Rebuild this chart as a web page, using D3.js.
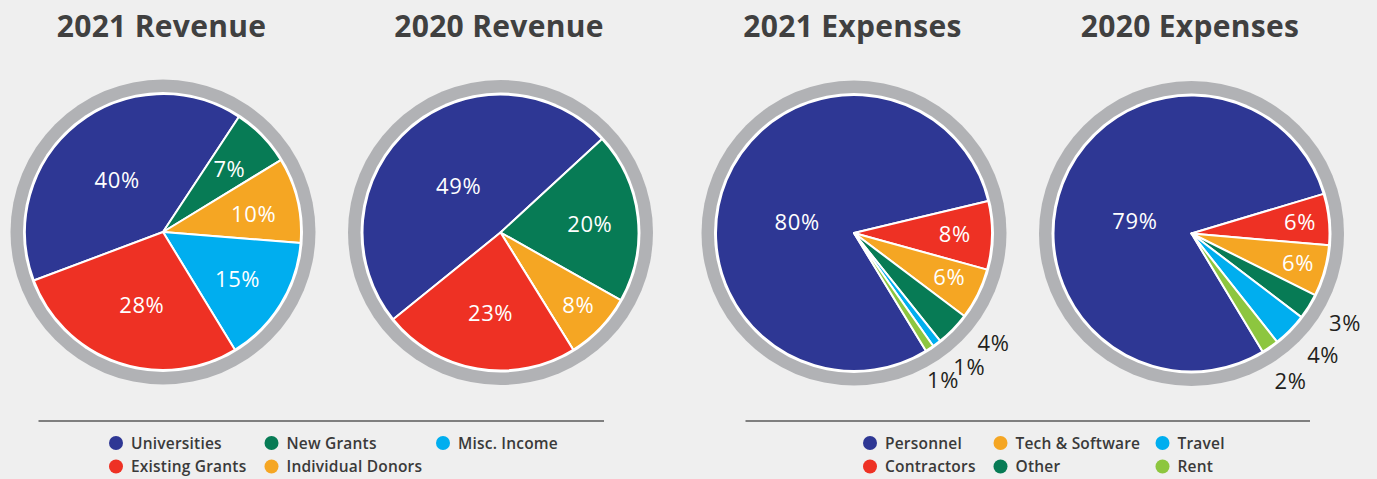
<!DOCTYPE html>
<html>
<head>
<meta charset="utf-8">
<script src="https://cdn.jsdelivr.net/npm/d3@7"></script>
<style>
  html, body { margin: 0; padding: 0; background: #efefef; }
  svg { display: block; font-family: "Open Sans", "DejaVu Sans", sans-serif; }
</style>
</head>
<body>
<div id="vis"></div>
<script>
// revenue: slice order goes clockwise from the start angle
var revenueSlices = ["Universities", "New Grants", "Individual Donors", "Misc. Income", "Existing Grants"];
var revenueColors = ["#2e3794", "#077b55", "#f5a623", "#00aeef", "#ee3124"];
var revenue2021 = [40, 7, 10, 15, 28];
var revenue2020 = [49, 20, 8, 0, 23];
var revenueLegend = ["Universities", "Existing Grants", "New Grants", "Individual Donors", "Misc. Income"];

var expenseSlices = ["Personnel", "Contractors", "Tech & Software", "Other", "Travel", "Rent"];
var expenseColors = ["#2e3794", "#ee3124", "#f5a623", "#077b55", "#00aeef", "#8dc63f"];
var expenses2021 = [80, 8, 6, 4, 1, 1];
var expenses2020 = [79, 6, 6, 3, 4, 2];
var expenseLegend = ["Personnel", "Contractors", "Tech & Software", "Other", "Travel", "Rent"];

var titles = ["2021 Revenue", "2020 Revenue", "2021 Expenses", "2020 Expenses"];

var width = 1377;
var height = 479;
var radius = 138;

// layout of each pie (centre, first slice angle, label placement)
var charts = [
  { title: titles[0], values: revenue2021, names: revenueSlices, colors: revenueColors,
    cx: 163, cy: 232, start: 249.4,
    labelR: [0.5, 0.66, 0.67, 0.64, 0.55], shift: [-3, 0.8, 2.2, 0.8, -2.8] },
  { title: titles[1], values: revenue2020, names: revenueSlices, colors: revenueColors,
    cx: 500.5, cy: 232.5, start: 231,
    labelR: [0.45, 0.65, 0.77, 0, 0.59], shift: [-1.6, 1.5, -0.8, 0, -2.6] },
  { title: titles[2], values: expenses2021, names: expenseSlices, colors: expenseColors,
    cx: 854, cy: 233, start: 148.6,
    labelR: [0.42, 0.73, 0.76, 1.29, 1.28, 1.25], shift: [-11.6, -0.4, -1.4, -5.8, -3.9, 2.1] },
  { title: titles[3], values: expenses2020, names: expenseSlices, colors: expenseColors,
    cx: 1191.5, cy: 233.5, start: 148.9,
    labelR: [0.42, 0.79, 0.8, 1.29, 1.3, 1.29], shift: [-8.9, 0.2, -0.3, -1.5, -1.7, 0.9] }
];

var svg = d3.select('#vis')
    .append('svg')
    .attr('width', width)
    .attr('height', height);

svg.append('rect')
    .attr('width', width)
    .attr('height', height)
    .attr('fill', '#efefef');

var rad = Math.PI / 180;

charts.forEach(function(c) {
    var colour = d3.scaleOrdinal().domain(c.names).range(c.colors);

    svg.append('text')
        .attr('x', c.cx - 1.5)
        .attr('y', 37)
        .attr('text-anchor', 'middle')
        .attr('font-size', 30)
        .attr('font-weight', 700)
        .attr('letter-spacing', 0.3)
        .attr('fill', '#404040')
        .text(c.title);

    var g = svg.append('g')
        .attr('transform', 'translate(' + c.cx + ',' + c.cy + ')');

    // grey outer ring
    g.append('circle').attr('r', 152.5).attr('fill', '#b1b2b5');
    g.append('circle').attr('r', 140).attr('fill', '#ffffff');

    var pie = d3.pie()
        .sort(null)
        .value(function(d) { return d.value; })
        .startAngle(c.start * rad)
        .endAngle(c.start * rad + 2 * Math.PI);

    var arc = d3.arc().innerRadius(0).outerRadius(radius);

    var rows = c.values.map(function(v, i) {
        return { name: c.names[i], value: v, r: c.labelR[i], shift: c.shift[i] };
    });
    var arcs = pie(rows);

    g.selectAll('.slice')
        .data(arcs)
        .enter()
        .append('path')
        .attr('class', 'slice')
        .attr('d', arc)
        .attr('fill', function(d) { return colour(d.data.name); })
        .attr('stroke', '#ffffff')
        .attr('stroke-width', 2)
        .attr('stroke-linejoin', 'round');

    g.selectAll('.lbl')
        .data(arcs.filter(function(d) { return d.data.value > 0; }))
        .enter()
        .append('text')
        .attr('class', 'lbl')
        .attr('transform', function(d) {
            var a = (d.startAngle + d.endAngle) / 2 + d.data.shift * rad;
            var r = radius * d.data.r;
            return 'translate(' + (r * Math.sin(a)) + ',' + (-r * Math.cos(a)) + ')';
        })
        .attr('text-anchor', 'middle')
        .attr('dy', '0.35em')
        .attr('font-size', 22)
        .attr('letter-spacing', 0.6)
        .attr('fill', function(d) { return d.data.value < 5 ? '#231f20' : '#ffffff'; })
        .text(function(d) { return d.data.value + '%'; });
});

// legends
function legend(items, colors, names, lineX, cols) {
    svg.append('line')
        .attr('x1', lineX[0]).attr('x2', lineX[1])
        .attr('y1', 421).attr('y2', 421)
        .attr('stroke', '#111')
        .attr('stroke-width', 1.2);

    var colour = d3.scaleOrdinal().domain(names).range(colors);
    var rowsY = [443, 466.5];

    var item = svg.selectAll(null)
        .data(items)
        .enter()
        .append('g')
        .attr('transform', function(d, i) {
            return 'translate(' + cols[Math.floor(i / 2)] + ',' + rowsY[i % 2] + ')';
        });

    item.append('circle')
        .attr('r', 7)
        .attr('fill', function(d) { return colour(d); });

    item.append('text')
        .attr('x', 15)
        .attr('dy', '0.36em')
        .attr('font-size', 15.5)
        .attr('font-weight', 600)
        .attr('letter-spacing', 0.2)
        .attr('fill', '#3a3a3a')
        .text(function(d) { return d; });
}

legend(revenueLegend, revenueColors, revenueSlices, [38.5, 604], [116, 271.5, 443]);
legend(expenseLegend, expenseColors, expenseSlices, [745.5, 1310], [870, 1000.5, 1162.5]);
</script>
</body>
</html>
